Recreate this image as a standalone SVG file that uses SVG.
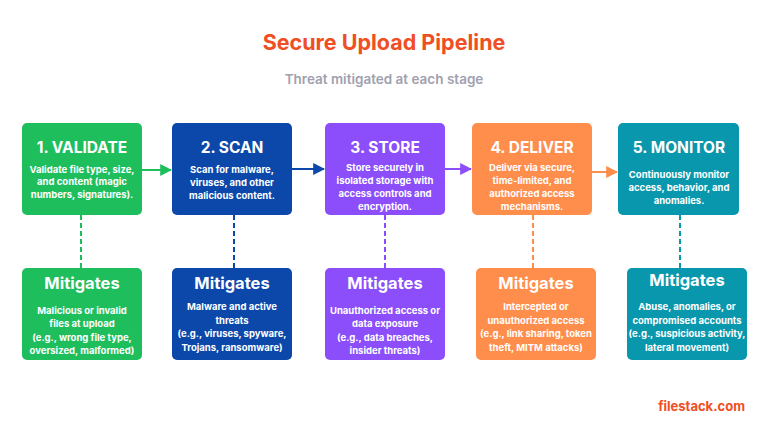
<svg xmlns="http://www.w3.org/2000/svg" width="768" height="432" viewBox="0 0 768 432">
<style>
text{font-family:"Inter","Liberation Sans",sans-serif;font-weight:700;fill:#fff;text-anchor:middle}
.h{font-size:15.5px}.d{font-size:9.5px}.m{font-size:16.5px}
.g{fill:#1EBE5D}.b{fill:#0B48AA}.p{fill:#8B4EFA}.o{fill:#FF8D4B}.t{fill:#0997AD}
.dash{stroke-width:2;stroke-dasharray:5 3;fill:none}
</style>
<defs>
<marker id="ag" viewBox="0 0 10 10" refX="9" refY="5" markerWidth="6" markerHeight="6" orient="auto"><path d="M0,0L10,5L0,10z" fill="#1EBE5D"/></marker>
<marker id="ab" viewBox="0 0 10 10" refX="9" refY="5" markerWidth="6" markerHeight="6" orient="auto"><path d="M0,0L10,5L0,10z" fill="#0B48AA"/></marker>
<marker id="ap" viewBox="0 0 10 10" refX="9" refY="5" markerWidth="6" markerHeight="6" orient="auto"><path d="M0,0L10,5L0,10z" fill="#8B4EFA"/></marker>
<marker id="ao" viewBox="0 0 10 10" refX="9" refY="5" markerWidth="6" markerHeight="6" orient="auto"><path d="M0,0L10,5L0,10z" fill="#FF8D4B"/></marker>
</defs>
<rect width="768" height="432" fill="#fff"/>
<text x="384" y="50" style="font-size:21.5px;fill:#F04E23">Secure Upload Pipeline</text>
<text x="384" y="84" style="font-size:13.5px;fill:#A0A0B0;font-weight:600">Threat mitigated at each stage</text>
<g id="connectors">
<line x1="142" y1="170" x2="171" y2="170" stroke="#1EBE5D" stroke-width="2" marker-end="url(#ag)"/>
<line x1="292" y1="169" x2="324" y2="169" stroke="#0B48AA" stroke-width="2" marker-end="url(#ab)"/>
<line x1="445" y1="169" x2="471" y2="169" stroke="#8B4EFA" stroke-width="2" marker-end="url(#ap)"/>
<line x1="592" y1="172" x2="617" y2="172" stroke="#FF8D4B" stroke-width="2" marker-end="url(#ao)"/>
<line class="dash" x1="81" y1="215" x2="81" y2="268" stroke="#1EBE5D"/>
<line class="dash" x1="234" y1="215" x2="234" y2="268" stroke="#0B48AA"/>
<line class="dash" x1="385" y1="215" x2="385" y2="268" stroke="#8B4EFA"/>
<line class="dash" x1="533" y1="215" x2="533" y2="268" stroke="#FF8D4B"/>
<line class="dash" x1="680" y1="215" x2="680" y2="268" stroke="#0997AD"/>
</g>
<g id="validate"><rect class="g" x="22" y="123" width="120" height="92" rx="5"/>
<text class="h" x="82" y="153">1. VALIDATE</text>
<text class="d" x="82" y="173">Validate file type, size,</text><text class="d" x="82" y="185">and content (magic</text><text class="d" x="82" y="198">numbers, signatures).</text></g>
<g id="scan"><rect class="b" x="172" y="123" width="120" height="92" rx="5"/>
<text class="h" x="232" y="153">2. SCAN</text>
<text class="d" x="232" y="173">Scan for malware,</text><text class="d" x="232" y="186">viruses, and other</text><text class="d" x="232" y="199">malicious content.</text></g>
<g id="store"><rect class="p" x="325" y="123" width="120" height="92" rx="5"/>
<text class="h" x="385" y="153">3. STORE</text>
<text class="d" x="385" y="171">Store securely in</text><text class="d" x="385" y="184">isolated storage with</text><text class="d" x="385" y="197">access controls and</text><text class="d" x="385" y="210">encryption.</text></g>
<g id="deliver"><rect class="o" x="472" y="123" width="120" height="92" rx="5"/>
<text class="h" x="532" y="153">4. DELIVER</text>
<text class="d" x="532" y="171">Deliver via secure,</text><text class="d" x="532" y="184">time-limited, and</text><text class="d" x="532" y="197">authorized access</text><text class="d" x="532" y="210">mechanisms.</text></g>
<g id="monitor"><rect class="t" x="618" y="123" width="121" height="92" rx="5"/>
<text class="h" x="679" y="153">5. MONITOR</text>
<text class="d" x="679" y="178">Continuously monitor</text><text class="d" x="679" y="191">access, behavior, and</text><text class="d" x="679" y="204">anomalies.</text></g>
<g id="m1"><rect class="g" x="22" y="268" width="120" height="92" rx="5"/>
<text class="m" x="82" y="289">Mitigates</text>
<text class="d" x="82" y="314">Malicious or invalid</text><text class="d" x="82" y="327">files at upload</text><text class="d" x="82" y="341">(e.g., wrong file type,</text><text class="d" x="82" y="354">oversized, malformed)</text></g>
<g id="m2"><rect class="b" x="172" y="268" width="120" height="92" rx="5"/>
<text class="m" x="232" y="289">Mitigates</text>
<text class="d" x="232" y="310">Malware and active</text><text class="d" x="232" y="324">threats</text><text class="d" x="232" y="337">(e.g., viruses, spyware,</text><text class="d" x="232" y="351">Trojans, ransomware)</text></g>
<g id="m3"><rect class="p" x="325" y="268" width="120" height="92" rx="5"/>
<text class="m" x="385" y="289">Mitigates</text>
<text class="d" x="385" y="314">Unauthorized access or</text><text class="d" x="385" y="327">data exposure</text><text class="d" x="385" y="341">(e.g., data breaches,</text><text class="d" x="385" y="354">insider threats)</text></g>
<g id="m4"><rect class="o" x="476" y="268" width="120" height="92" rx="5"/>
<text class="m" x="536" y="289">Mitigates</text>
<text class="d" x="536" y="310">Intercepted or</text><text class="d" x="536" y="324">unauthorized access</text><text class="d" x="536" y="337">(e.g., link sharing, token</text><text class="d" x="536" y="351">theft, MITM attacks)</text></g>
<g id="m5"><rect class="t" x="627" y="268" width="120" height="92" rx="5"/>
<text class="m" x="687" y="286">Mitigates</text>
<text class="d" x="687" y="310">Abuse, anomalies, or</text><text class="d" x="687" y="324">compromised accounts</text><text class="d" x="687" y="337">(e.g., suspicious activity,</text><text class="d" x="687" y="351">lateral movement)</text></g>
<text x="745" y="411" style="font-size:13px;fill:#F04E23;text-anchor:end">filestack.com</text>
</svg>
